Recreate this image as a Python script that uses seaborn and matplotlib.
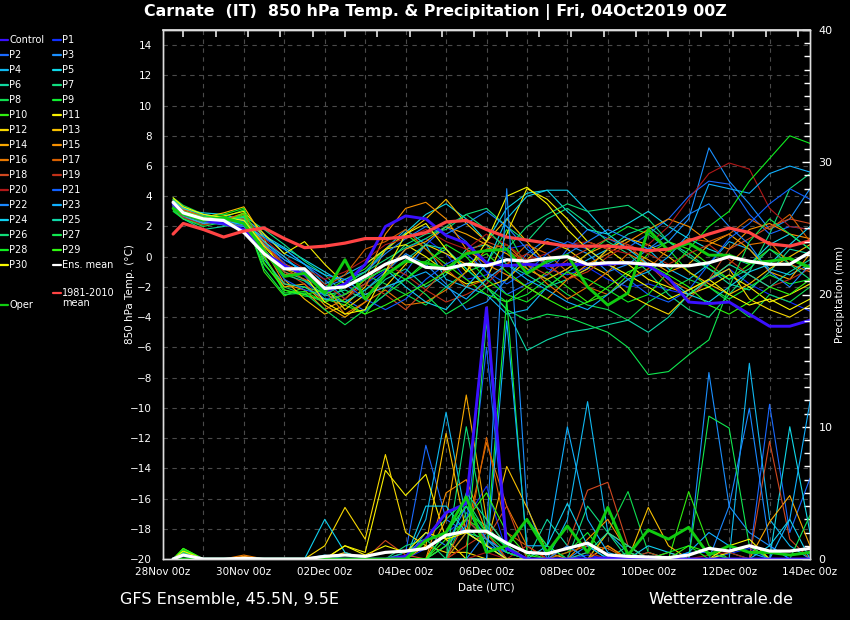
import numpy as np
import pandas as pd
import matplotlib
matplotlib.use("Agg")
import matplotlib.pyplot as plt
import matplotlib.dates as mdates
from matplotlib.lines import Line2D
from matplotlib.ticker import MultipleLocator, FixedLocator
import seaborn as sns

# ---------------- data ----------------
TIMES = pd.DatetimeIndex([pd.Timestamp("2019-11-28 06:00")]).append(
    pd.date_range("2019-11-28 12:00", "2019-12-14 00:00", freq="12h"))

MEMBERS = ["Control"] + [f"P{i}" for i in range(1, 31)]

COLORS = ["#3a10ff", "#1030ff", "#1a6aff", "#1a8fff", "#10b8f0", "#10d8e8",
          "#10d8a0", "#10dd80", "#10dd50", "#10ee30", "#30ee10", "#f8f000",
          "#f8d800", "#f8c000", "#f8a800", "#f89000", "#e87800", "#d86000",
          "#d04820", "#c03018", "#b01818", "#1060ff", "#1a88ff", "#10b0ff",
          "#10d0f0", "#10d8a8", "#10dd78", "#10e850", "#10ee20", "#30f810",
          "#f8f800"]
OPER_COLOR = "#10cc10"

# 850 hPa temperature (degC)
T_CONTROL = [3.5,2.8,2.4,2.2,1.8,0.3,-0.6,-1.2,-2.3,-1.8,-0.5,2.0,2.7,2.5,1.4,0.9,-0.4,-0.6,-0.5,-0.6,-0.5,-0.5,-0.5,-0.4,-0.6,-1.4,-3.0,-3.1,-3.0,-3.8,-4.6,-4.6,-4.2]
T_P1 = [3.7,3.0,2.6,2.5,2.0,0.8,-0.4,-1.6,-2.8,-2.5,-1.8,-0.9,0.5,1.2,0.2,-1.5,-1.2,0.5,0.8,-0.8,-1.2,-0.7,-1.5,-2.0,-1.8,-2.2,-2.5,-1.6,-0.8,-1.8,-2.5,-3.0,-3.6]
T_P2 = [3.4,2.9,2.3,2.6,2.2,1.2,0.5,-0.5,-1.5,-2.8,-3.6,-2.5,-1.0,0.8,2.0,1.0,-1.0,-2.5,-1.8,-1.2,0.5,1.8,1.2,0.6,1.5,2.5,4.0,5.0,4.8,2.8,1.5,2.0,1.8]
T_P3 = [3.8,3.2,2.7,2.3,2.0,1.0,-0.2,-0.9,-2.5,-3.0,-2.2,-1.0,0.2,-0.5,-1.8,-3.5,-3.0,-1.5,0.2,1.2,0.8,0.2,-1.0,-0.5,0.5,1.0,2.5,7.2,5.0,3.5,1.8,2.5,4.5]
T_P4 = [3.3,2.6,2.2,2.5,2.6,1.5,0.2,-0.5,-1.8,-1.2,-0.5,0.5,1.8,0.8,-1.5,-2.0,-2.5,-3.8,-3.5,-2.0,-1.0,-0.2,0.5,1.2,0.5,-0.8,-1.5,-0.5,1.0,0.5,-0.8,-1.2,-0.5]
T_P5 = [3.6,3.1,2.9,2.8,2.4,1.4,0.6,-0.2,-1.0,-1.8,-1.0,0.4,1.6,2.8,3.5,2.5,1.0,3.2,4.2,4.4,3.0,1.8,1.5,2.2,3.0,2.0,1.2,0.5,0.0,-0.5,0.8,1.5,0.5]
T_P6 = [3.2,2.5,1.8,2.0,2.3,0.5,-1.0,-1.5,-2.6,-2.2,-2.8,-1.5,-0.8,-2.0,-1.2,0.5,0.8,-0.5,-1.2,-2.0,-1.5,-0.8,0.5,1.5,2.0,1.0,0.2,-0.8,-1.8,-2.2,-1.0,0.5,0.2]
T_P7 = [3.5,2.7,2.5,2.1,2.7,1.8,0.8,-0.3,-1.2,-2.5,-1.8,-0.5,0.8,1.5,1.8,2.8,3.2,2.0,1.0,2.5,3.2,2.2,1.0,0.2,-1.0,-2.5,-3.5,-4.0,-2.5,-1.0,1.5,4.5,5.5]
T_P8 = [3.9,3.4,2.8,2.4,2.2,-0.5,-2.0,-2.5,-3.0,-2.0,-1.2,-1.8,-2.5,-3.2,-2.0,-1.0,-0.5,1.8,-0.8,-1.5,-2.5,-3.2,-3.5,-4.2,-3.0,-2.2,-1.5,-2.0,-3.0,-4.0,-2.5,-3.0,-2.0]
T_P9 = [3.0,2.5,2.1,2.6,3.1,0.0,-2.2,-2.6,-2.8,-3.2,-3.8,-2.0,-1.5,-0.3,0.5,-0.8,-2.0,-3.0,-2.5,-1.5,-0.8,0.2,1.2,2.0,1.5,0.5,-1.0,-2.0,-2.8,-2.0,-1.2,-1.8,-1.5]
T_P10 = [3.4,2.8,2.3,2.2,2.8,-1.0,-2.6,-2.0,-2.4,-1.5,-0.8,0.5,1.5,0.5,-0.5,-1.5,-2.5,-3.0,-2.0,-1.0,-2.0,-3.0,-2.5,-1.2,0.2,1.0,0.5,-0.5,-1.5,-0.5,0.5,-0.2,-0.8]
T_P11 = [3.6,3.0,2.5,2.7,3.0,1.5,0.2,1.0,-0.5,-1.8,-0.5,0.5,0.8,0.0,-1.0,-1.8,-1.5,1.5,4.5,3.8,2.5,1.0,0.5,-0.5,-1.5,-2.0,-2.5,-2.0,-1.2,-2.0,-3.0,-2.5,-1.8]
T_P12 = [3.7,3.1,2.6,2.4,2.5,0.8,-0.5,-1.0,-2.0,-3.5,-2.5,-2.0,-0.5,0.8,0.2,-0.5,-2.0,-1.5,-0.2,1.0,0.5,-0.5,-1.2,-2.5,-3.2,-3.8,-2.5,-1.5,-0.8,-2.8,-3.5,-4.0,-3.2]
T_P13 = [3.8,3.2,2.6,2.9,3.3,1.2,-1.5,-2.8,-3.8,-3.2,-2.0,0.5,1.5,2.5,3.8,2.2,1.0,2.5,1.0,-0.5,-1.5,-0.8,0.5,1.2,0.8,0.0,-1.0,-1.8,-2.5,-1.8,-0.8,0.0,0.8]
T_P14 = [3.5,2.9,2.4,2.3,2.6,0.0,-2.0,-1.8,-3.2,-4.0,-3.0,-1.0,0.5,1.0,2.0,1.5,0.8,0.2,-0.8,-1.5,-0.8,0.2,0.8,0.5,-0.2,-1.0,-0.5,0.8,1.5,0.5,-1.0,-1.5,0.2]
T_P15 = [3.3,2.7,2.2,2.4,2.9,0.6,-1.8,-2.2,-3.5,-2.8,-1.5,1.5,3.2,3.6,2.5,0.5,-0.5,-1.2,-2.0,-2.8,-1.5,-0.5,0.2,1.0,1.8,2.5,2.0,1.0,0.5,1.8,2.2,1.5,1.2]
T_P16 = [3.6,3.0,2.5,2.1,2.4,0.2,-1.2,-1.0,-2.2,-3.8,-3.0,-2.2,-3.2,-3.0,-2.2,-1.0,0.5,0.8,-0.5,-1.8,-2.8,-2.0,-1.0,0.2,-0.5,-1.5,-2.2,-1.5,-0.5,0.8,1.0,-0.5,-1.0]
T_P17 = [3.4,2.8,2.3,2.5,2.8,1.0,-0.8,-1.5,-2.0,-1.2,0.5,1.0,1.8,0.5,-0.8,-2.0,-1.5,-0.5,0.8,0.2,-1.0,-2.0,-2.5,-1.5,-0.8,0.5,1.2,1.0,1.5,2.5,1.8,2.8,1.0]
T_P18 = [3.7,3.1,2.7,2.2,2.0,0.4,-1.0,-1.8,-3.0,-2.5,-1.8,-2.5,-3.5,-2.2,-0.8,0.3,1.0,0.5,-0.5,-1.2,-0.2,0.5,1.2,0.8,-0.5,-1.8,-2.8,-1.5,0.5,1.2,2.0,2.5,2.2]
T_P19 = [3.2,2.6,2.1,2.3,2.6,0.9,-0.5,-1.0,-1.8,-2.8,-1.8,-0.5,-1.2,-2.2,-3.0,-2.5,-1.8,-0.5,0.2,-0.5,-1.5,-1.0,0.0,0.8,0.2,-0.5,0.2,0.8,-0.2,-1.2,-2.0,-1.5,-0.8]
T_P20 = [3.5,2.9,2.4,2.2,2.5,1.2,0.0,-0.8,-1.5,-1.0,-0.2,0.8,1.2,1.8,1.0,0.5,1.5,0.8,-0.2,0.2,0.8,1.0,0.5,0.2,0.8,2.0,3.8,5.5,6.2,5.8,3.2,2.0,1.8]
T_P21 = [3.6,3.0,2.4,2.6,2.3,0.5,-1.5,-2.2,-2.5,-1.8,-2.8,-3.5,-2.8,-1.5,-0.5,0.2,-1.0,-1.8,-1.0,0.2,1.0,0.5,-0.5,-1.5,-2.5,-3.0,-2.2,-0.5,1.2,2.2,3.5,4.5,3.8]
T_P22 = [3.3,2.8,2.3,2.1,2.0,0.8,-0.2,-1.0,-2.0,-1.5,-1.0,0.2,1.2,2.0,1.5,2.2,3.0,2.0,0.5,-0.5,0.2,1.0,1.8,1.2,0.5,1.5,2.8,3.5,2.0,0.8,-1.0,-2.0,-0.5]
T_P23 = [3.4,2.7,2.2,2.4,2.1,1.3,0.5,-0.5,-1.2,-1.5,-2.5,-2.0,-1.5,-1.0,-2.0,-2.8,-1.5,-0.5,-1.5,-2.2,-3.0,-3.5,-2.5,-1.5,-1.0,0.0,1.5,4.8,4.5,4.2,5.5,6.0,5.6]
T_P24 = [3.7,3.2,2.8,2.6,2.4,1.0,0.0,-1.2,-2.2,-2.0,-1.5,-0.8,-2.0,-3.0,-3.5,-2.0,-0.5,2.5,4.0,4.4,4.4,3.0,1.5,0.5,-0.5,-1.5,-2.5,-3.0,-2.0,-1.0,-0.5,0.8,2.0]
T_P25 = [3.5,2.9,2.5,2.4,2.6,-0.2,-1.8,-2.0,-2.8,-3.0,-2.2,-1.2,-0.2,0.8,0.5,-0.8,-2.0,-3.5,-6.2,-5.5,-5.0,-4.8,-4.5,-4.2,-5.0,-4.0,-2.5,-1.5,-0.5,-1.2,-2.0,-1.0,-0.2]
T_P26 = [3.8,3.3,2.7,2.5,2.2,0.3,-1.2,-1.6,-2.5,-1.8,-1.0,-0.2,0.6,1.2,2.0,2.8,1.8,0.5,2.0,2.8,3.5,3.0,3.2,3.4,2.5,1.0,0.0,-0.8,-1.5,-0.8,0.5,-0.5,-1.5]
T_P27 = [3.1,2.5,2.0,2.3,2.7,-0.8,-2.5,-2.4,-3.5,-4.5,-3.5,-2.5,-1.5,-2.5,-3.8,-3.0,-2.0,-3.5,-4.2,-3.8,-4.0,-4.5,-5.0,-6.0,-7.8,-7.6,-6.5,-5.5,-2.0,1.0,2.5,1.5,0.5]
T_P28 = [3.6,3.0,2.6,2.8,3.2,0.1,-2.4,-2.3,-3.0,-2.5,-1.5,-0.8,-1.5,-0.5,0.8,0.0,-1.5,-2.5,-3.0,-2.0,-1.0,-1.5,-2.2,-3.0,-2.5,-1.0,0.5,2.0,3.0,5.0,6.5,8.0,7.5]
T_P29 = [3.4,2.8,2.4,2.2,2.9,-0.4,-2.2,-2.5,-2.2,-3.0,-3.8,-3.2,-2.5,-1.8,-1.0,-0.5,0.2,-1.0,-2.0,-2.8,-3.5,-3.0,-2.0,-1.0,-0.5,-1.2,-2.0,-3.2,-3.8,-3.0,-2.0,-2.5,-1.5]
T_P30 = [3.9,3.3,2.8,2.6,2.4,0.7,-0.8,-1.2,-3.0,-3.8,-3.5,-1.0,1.5,2.2,0.5,-1.0,1.0,4.0,4.6,3.5,1.8,0.5,-0.5,-1.2,-2.0,-2.8,-2.2,-1.5,-2.5,-3.2,-2.8,-3.5,-2.8]
T_OPER = [3.2,2.8,2.4,2.6,2.2,0.4,-1.3,-1.1,-2.4,-0.2,-2.8,-1.2,-0.3,-0.4,-0.8,0.2,0.4,0.5,-1.1,-0.3,0.1,-2.0,-3.2,-2.4,1.8,0.4,0.9,0.1,0.1,-0.4,-0.3,-0.1,-0.7]
T_ENS_MEAN = [3.6,2.9,2.5,2.4,1.6,0.2,-0.8,-0.8,-2.1,-2.0,-1.3,-0.5,0.0,-0.7,-0.8,-0.5,-0.6,-0.2,-0.3,-0.1,0.0,-0.5,-0.4,-0.4,-0.5,-0.6,-0.6,-0.4,0.0,-0.3,-0.5,-0.5,0.3]
T_CLIMATE = [1.5,2.2,1.8,1.3,1.7,1.9,1.2,0.6,0.7,0.9,1.2,1.2,1.3,1.6,2.3,2.4,1.8,1.3,1.1,0.9,0.7,0.7,0.7,0.6,0.4,0.5,1.05,1.5,1.9,1.6,0.85,0.7,1.05]

# precipitation (mm)
P_CONTROL = [0,0.3,0,0,0,0,0,0,0,0,0,0,0.2,1.5,3.5,4.2,19.0,0.8,0,0,0,0,0.1,0,0,0,0,0,0,0,0,0,0]
P_P1 = [0,0.2,0,0,0,0,0,0,0,0,0,0,0,0.8,2.0,3.0,5.5,0.5,0,0,0,0.3,0,0,0,0,0,0,0.4,0.8,0,0,0]
P_P2 = [0,0.2,0,0,0,0,0,0,0,0,0,0,0.5,8.6,3.0,2.0,1.0,0.5,0,0,0,0,0,0,0,0,0,0,0,0,11.7,2.0,6.1]
P_P3 = [0,0,0,0,0,0,0,0,0,0,0,0,0,0,0,0,2.0,28.0,4.0,0,0,1.0,0,0,0,0,0,14.1,4.0,2.0,1.0,0,0]
P_P4 = [0,0,0,0,0,0,0,0,0.3,0,0,0,0,3.0,11.1,3.0,1.5,0,0,0,3.0,11.9,2.0,0.5,0,0,0,0,0,14.8,3.0,1.0,0]
P_P5 = [0,0,0,0,0,0,0,0,0,0,0,0,0,0,2.0,4.0,1.0,0,0,0,0,0,0,0,0,0,0,0,0,0,0,10.0,2.0]
P_P6 = [0,0,0,0,0,0,0,0,0,0,0,0,0,0,0,2.0,1.5,0.5,0,3.0,1.0,0,0,1.0,0,0,0,0,0,0,0,0,0]
P_P7 = [0,0,0,0,0,0,0,0,0,0,0,0,0.5,1.5,3.0,4.5,2.0,0,0,0,0,4.0,2.0,0,0.5,0,0,0,0.5,0,0,0,0]
P_P8 = [0,0.7,0,0,0,0,0,0,0,0,0,0,0,0,0,3.5,2.5,0.8,3.0,1.0,0,0,2.0,5.1,0.5,0,0,0,0,0,0,0,0]
P_P9 = [0,0.5,0,0,0,0,0,0,0,0,0,0,0,0,1.0,2.5,1.0,19.6,0.5,0,0.5,2.0,0,0,0,0,0,0,0,0,0,0,0]
P_P10 = [0,0.8,0,0,0,0,0,0,0,0,0,0,0,0,1.5,3.0,2.0,1.0,0,0,0,0,0,0,0,0,5.1,1.0,0,0,0,0,0]
P_P11 = [0,0.4,0,0,0,0,0,0,0,1.0,0.5,6.7,4.8,6.4,1.5,0,0,0,0,0,0,0,0,0,0,0,0,0,0.5,1.0,0,0,0]
P_P12 = [0,0,0,0,0,0,0,0,1.0,3.9,1.5,7.9,2.0,1.0,0.5,0.5,0,0,0,0,0,0,0,0,0,0,0,0,0,0,0,0,0]
P_P13 = [0,0,0,0,0,0,0,0,0,0.5,0,0,0,1.0,9.5,2.0,1.0,7.0,3.9,0.5,0,0,1.0,0,3.9,1.0,0,0,0,0,0,0,0]
P_P14 = [0,0,0,0,0,0,0,0,0,0,0,0,0,0,3.0,12.4,3.0,1.0,0,0,0,0,2.0,1.0,0,0,0,0,0,0,2.8,4.8,1.0]
P_P15 = [0,0,0,0,0.2,0,0,0,0,0,0,0,0,0,5.0,6.0,2.0,0,0,0,0,1.5,3.0,0.5,0,0,0,0,0,0,0,0,0]
P_P16 = [0,0,0,0,0.3,0,0,0,0,0,0,0,0,0,0,2.0,8.8,4.0,1.0,0,0,0,1.0,0,0,0.5,0,0,0,0,0,0,0]
P_P17 = [0,0,0,0,0,0,0,0,0,0,0,0,0,0,0,1.0,9.2,2.0,1.0,0,0.5,1.0,0.8,0,0,0,0,0,0,0,0,0,0]
P_P18 = [0,0,0,0,0,0,0,0,0,0,0,1.4,0.3,0,0,3.0,1.5,4.0,0,0,1.0,5.2,5.8,1.0,0,0,0,0,0,0,8.9,1.5,0]
P_P19 = [0,0,0,0,0,0,0,0,0,0,0,0,0,0,0,1.0,2.0,0,1.0,0,0,0.5,0,0,0.5,0,0,0,0,0,0,0,0]
P_P20 = [0,0,0,0,0,0,0,0,0,0,0,0,0,0,0,0,0.5,0,0,0,0,0,0,0,0,0,0,0.3,0.5,0,0,0,0]
P_P21 = [0,0,0,0,0,0,0,0,0,0,0,0,0,0,1.0,2.5,16.0,0.5,0,0,0,0,0,0,0,0,0.5,0.5,0,0,0,0,0]
P_P22 = [0,0,0,0,0,0,0,0,0,0,0,0,0,2.0,1.0,4.0,1.5,0.5,0,0,1.0,0,0,0,0,0,0,0,4.0,11.4,1.0,0,0]
P_P23 = [0,0,0,0,0,0,0,0,0,0,0,0,0,0,0,0,0,18.0,1.0,1.0,10.0,3.0,0.5,0,0,0,0.5,2.0,1.0,0.5,0,3.0,11.9]
P_P24 = [0,0,0,0,0,0,0,0,3.0,0.5,0,0,0,4.0,4.0,2.0,1.0,0,0,1.0,4.2,1.0,0,0,1.0,0.5,0,0,0,0,1.0,3.0,0]
P_P25 = [0,0.3,0,0,0,0,0,0,0,0,0,0,0,0,0,5.0,3.0,1.0,0,0,0,0.5,2.0,1.0,0,0,0,0,0,0,0,0,0]
P_P26 = [0,0.5,0,0,0,0,0,0,0,0,0,0,1.0,1.5,0,10.0,2.0,1.0,0,0,0,0,0,0.5,0,0,0,0,0,0,0,0,0]
P_P27 = [0,0,0,0,0,0,0,0,0,0,0,0,0,0,0,0,18.0,1.0,3.0,1.0,0,0,0,0,0,0,0,10.8,9.9,1.0,0,0,3.3]
P_P28 = [0,0.6,0,0,0,0,0,0,0,0,0,0,0,0,2.0,4.0,2.0,0.5,0,0,0,0,0,0,0,0.5,1.0,0,0,0,0,0,0]
P_P29 = [0,0.8,0,0,0,0,0,0,0,0,0,0,0,0,1.0,3.0,5.0,2.0,0.3,0,0,0,0,0,0,0,1.0,0.5,0,0,0,0,0]
P_P30 = [0,0.6,0,0,0,0,0,0,0,1.0,0.3,1.0,0.5,2.0,1.5,2.0,1.0,0,0,0,0,0,0,0,0,0,0,0,1.0,1.5,0,0,0]
P_OPER = [0,0,0,0,0,0,0,0,0,0,0,0,0,1.4,2.0,4.7,0.5,1.0,3.0,0.5,2.5,0.5,3.9,0.3,2.2,1.5,2.4,0.3,1.0,0.5,0.5,0.3,0.5]
P_ENS_MEAN = [0,0.3,0,0,0.05,0,0,0,0.2,0.3,0.2,0.5,0.6,0.8,1.8,2.1,2.1,1.2,0.5,0.4,0.8,1.2,0.3,0.2,0.15,0.1,0.3,0.8,0.6,1.0,0.6,0.6,0.8]

TEMPS = [T_CONTROL, T_P1, T_P2, T_P3, T_P4, T_P5, T_P6, T_P7, T_P8, T_P9, T_P10,
         T_P11, T_P12, T_P13, T_P14, T_P15, T_P16, T_P17, T_P18, T_P19, T_P20,
         T_P21, T_P22, T_P23, T_P24, T_P25, T_P26, T_P27, T_P28, T_P29, T_P30]
PRECS = [P_CONTROL, P_P1, P_P2, P_P3, P_P4, P_P5, P_P6, P_P7, P_P8, P_P9, P_P10,
         P_P11, P_P12, P_P13, P_P14, P_P15, P_P16, P_P17, P_P18, P_P19, P_P20,
         P_P21, P_P22, P_P23, P_P24, P_P25, P_P26, P_P27, P_P28, P_P29, P_P30]

# ---------------- figure ----------------
sns.set_theme(style="dark")
plt.rcParams["font.family"] = ["DejaVu Sans"]
BG = "black"
FG = "white"
GRID = "#4a4a4a"

fig = plt.figure(figsize=(8.5, 6.2), dpi=100, facecolor=BG)
ax = fig.add_axes([163/850, 1-559/620, 647/850, 529/620])
ax.set_facecolor(BG)
ax2 = ax.twinx()

# ensemble members (temperature then precipitation)
for name, col, tv, pv in zip(MEMBERS, COLORS, TEMPS, PRECS):
    if name == "Control":
        continue
    sns.lineplot(x=TIMES, y=tv, color=col, lw=0.8, ax=ax, legend=False)
    sns.lineplot(x=TIMES, y=pv, color=col, lw=0.8, ax=ax2, legend=False)

# control run
sns.lineplot(x=TIMES, y=T_CONTROL, color=COLORS[0], lw=2.1, ax=ax, legend=False)
sns.lineplot(x=TIMES, y=P_CONTROL, color=COLORS[0], lw=2.1, ax=ax2, legend=False)
# operational run
sns.lineplot(x=TIMES, y=T_OPER, color=OPER_COLOR, lw=2.1, ax=ax, legend=False)
sns.lineplot(x=TIMES, y=P_OPER, color=OPER_COLOR, lw=2.1, ax=ax2, legend=False)
# ensemble mean and climatology
sns.lineplot(x=TIMES, y=T_ENS_MEAN, color="white", lw=2.3, ax=ax, legend=False)
sns.lineplot(x=TIMES, y=P_ENS_MEAN, color="white", lw=2.3, ax=ax2, legend=False)
sns.lineplot(x=TIMES, y=T_CLIMATE, color="#ff4444", lw=2.3, ax=ax, legend=False)

start = pd.Timestamp("2019-11-28 00:00")
end = pd.Timestamp("2019-12-14 00:00")
ax.set_xlim(start, end)
ax.set_ylim(-20, 15)
ax2.set_ylim(0, 40)

# x axis
ax.xaxis.set_major_locator(mdates.DayLocator(interval=2))
ax.xaxis.set_minor_locator(mdates.DayLocator())
ax.xaxis.set_major_formatter(mdates.DateFormatter("%d%b %Hz"))
ax.tick_params(axis="x", which="both", colors=FG, labelsize=7.5, length=0, pad=6)
ax.set_xlabel("Date (UTC)", color=FG, fontsize=7.5, labelpad=4)

# left axis
ax.yaxis.set_major_locator(MultipleLocator(2))
ax.tick_params(axis="y", colors=FG, labelsize=7.5, length=0, pad=8)
ax.set_ylabel("850 hPa Temp. (°C)", color=FG, fontsize=7.5, labelpad=-4)

# right axis
ax2.yaxis.set_major_locator(MultipleLocator(10))
ax2.yaxis.set_minor_locator(MultipleLocator(1))
ax2.tick_params(axis="y", which="major", colors=FG, labelsize=8, direction="in",
                length=6, width=1, pad=6)
ax2.tick_params(axis="y", which="minor", colors=FG, direction="in", length=4, width=1)
ax2.set_ylabel("Precipitation (mm)", color=FG, fontsize=7.5, labelpad=2)
ax2.grid(False)

# grid
ax.grid(True, which="both", axis="x", color=GRID, ls=(0, (4, 4)), lw=0.8)
ax.grid(True, which="major", axis="y", color=GRID, ls=(0, (4, 4)), lw=0.8)
ax.set_axisbelow(True)

for a in (ax, ax2):
    for s in a.spines.values():
        s.set_color("#dddddd")
        s.set_linewidth(1.0)

# top tick marks
top = ax.secondary_xaxis("top")
top_ticks = pd.date_range("2019-11-28 12:00", periods=20, freq="1152min")
top.xaxis.set_major_locator(FixedLocator(mdates.date2num(top_ticks)))
top.tick_params(axis="x", direction="in", length=5, colors="#dddddd", labelsize=0,
                labeltop=False)
top.spines["top"].set_color("#dddddd")

# titles / footer
fig.text(435/850, 1-12/620, "Carnate  (IT)  850 hPa Temp. & Precipitation | Fri, 04Oct2019 00Z",
         color=FG, fontsize=11.4, fontweight="bold", ha="center", va="center")
fig.text(120/850, 1-599/620, "GFS Ensemble, 45.5N, 9.5E", color=FG, fontsize=11.5,
         ha="left", va="center")
fig.text(793/850, 1-599/620, "Wetterzentrale.de", color=FG, fontsize=11.5,
         ha="right", va="center")

# legend (two columns at left)
def leg(x, y, col, label, lw=1.6):
    fig.add_artist(Line2D([x/850, (x+8)/850], [1-y/620, 1-y/620], color=col, lw=lw,
                          transform=fig.transFigure))
    fig.text((x+9)/850, 1-y/620, label, color=FG, fontsize=7, ha="left", va="center")

entries = [(n, c) for n, c in zip(MEMBERS, COLORS)]
for i, (n, c) in enumerate(entries):
    row, colm = divmod(i, 2)
    leg(0 if colm == 0 else 53, 40 + 15*row, c, n)
leg(53, 265, "white", "Ens. mean")
leg(53, 293, "#ff4444", "1981-2010")
fig.text(62/850, 1-303/620, "mean", color=FG, fontsize=7, ha="left", va="center")
leg(0, 305, OPER_COLOR, "Oper")

fig.savefig("out.png", dpi=100, facecolor=BG)
